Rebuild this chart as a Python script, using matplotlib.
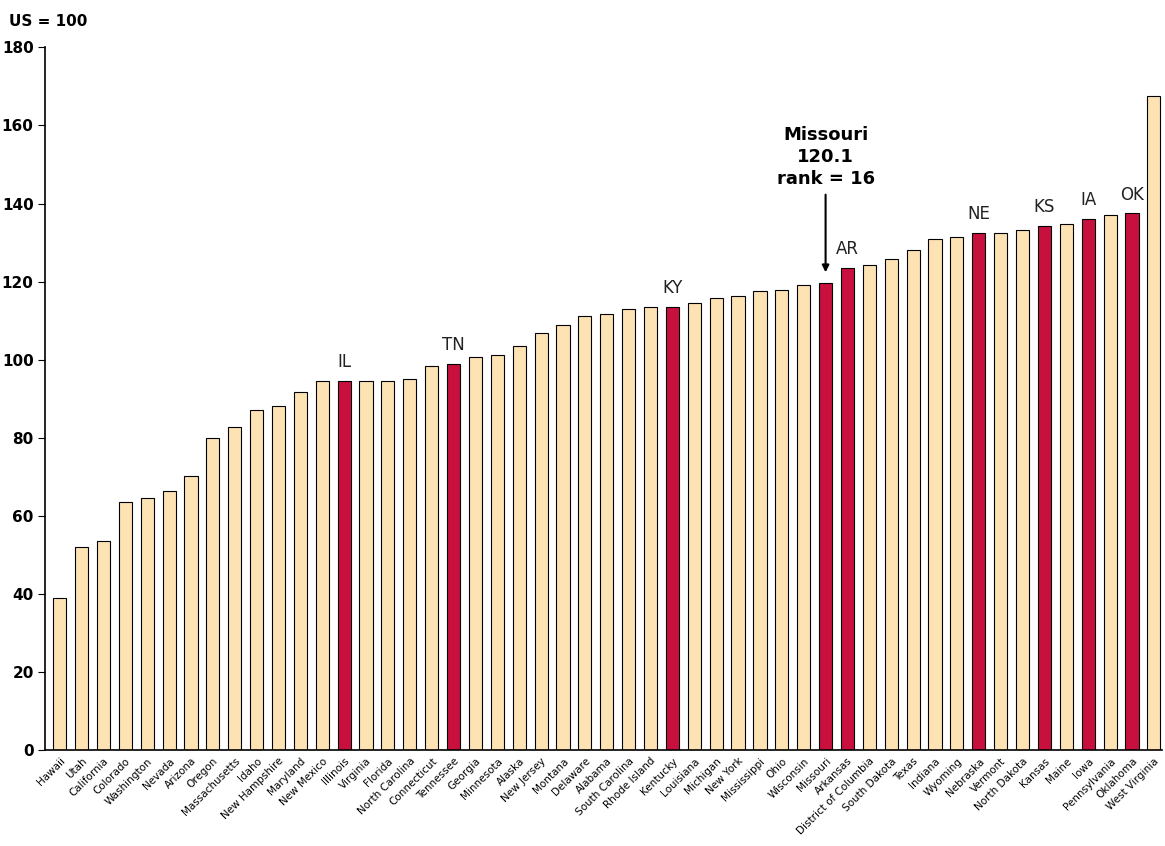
import matplotlib.pyplot as plt

states = ["Hawaii", "Utah", "California", "Colorado", "Washington", "Nevada", "Arizona", "Oregon",
          "Massachusetts", "Idaho", "New Hampshire", "Maryland", "New Mexico", "Illinois", "Virginia",
          "Florida", "North Carolina", "Connecticut", "Tennessee", "Georgia", "Minnesota", "Alaska",
          "New Jersey", "Montana", "Delaware", "Alabama", "South Carolina", "Rhode Island", "Kentucky",
          "Louisiana", "Michigan", "New York", "Mississippi", "Ohio", "Wisconsin", "Missouri", "Arkansas",
          "District of Columbia", "South Dakota", "Texas", "Indiana", "Wyoming", "Nebraska", "Vermont",
          "North Dakota", "Kansas", "Maine", "Iowa", "Pennsylvania", "Oklahoma", "West Virginia"]
values = [39, 52, 53.5, 63.5, 64.7, 66.5, 70.3, 80, 82.7, 87.2, 88.3, 91.8, 94.6, 94.6, 94.6,
          94.6, 95, 98.5, 99, 100.7, 101.2, 103.5, 106.8, 109, 111.3, 111.8, 113, 113.5, 113.5,
          114.5, 115.8, 116.3, 117.5, 118, 119.2, 119.7, 123.5, 124.2, 125.8, 128, 131, 131.4,
          132.5, 132.5, 133.2, 134.3, 134.8, 136, 137, 137.5, 167.5]
highlight = {"Illinois": "IL", "Tennessee": "TN", "Kentucky": "KY", "Missouri": None, "Arkansas": "AR",
             "Nebraska": "NE", "Kansas": "KS", "Iowa": "IA", "Oklahoma": "OK"}

cream = "#FDE3B4"
red = "#C8103E"

fig = plt.figure(figsize=(11.65, 8.46), dpi=100)
ax = fig.add_axes([0.039, 0.113, 0.958, 0.831])

x = list(range(len(states)))
colors = [red if s in highlight else cream for s in states]
ax.bar(x, values, width=0.6, color=colors, edgecolor="black", linewidth=0.8)

for i, (s, v) in enumerate(zip(states, values)):
    if highlight.get(s):
        ax.text(i, v + 2.5, highlight[s], ha="center", va="bottom", fontsize=12, color="#222222")

mi = states.index("Missouri")
ax.annotate("", xy=(mi, values[mi] + 2), xytext=(mi, 143),
            arrowprops=dict(arrowstyle="-|>", color="black", lw=1.5))
ax.text(mi, 144, "Missouri\n120.1\nrank = 16", ha="center", va="bottom",
        fontsize=13, fontweight="bold", linespacing=1.3)

ax.set_xlim(-0.65, 50.35)
ax.set_ylim(0, 180)
ax.set_yticks(range(0, 181, 20))
ax.set_xticks(x)
ax.set_xticklabels(states, rotation=45, ha="right", rotation_mode="anchor", fontsize=7.5)
ax.tick_params(axis="x", length=0, pad=4)
ax.tick_params(axis="y", direction="out", length=5)
for lab in ax.get_yticklabels():
    lab.set_fontweight("bold")
    lab.set_fontsize(11)
for sp in ["top", "right"]:
    ax.spines[sp].set_visible(False)
ax.spines["left"].set_linewidth(1.2)
ax.spines["bottom"].set_linewidth(1.2)

fig.text(0.008, 0.975, "US = 100", fontsize=11, fontweight="bold", ha="left", va="center")

fig.savefig("out.png", dpi=100)
